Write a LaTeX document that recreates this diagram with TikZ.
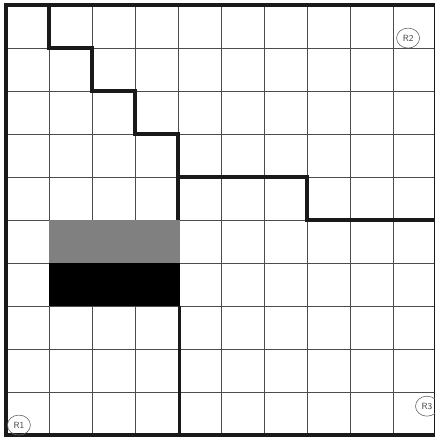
\documentclass[tikz,border=0pt]{standalone}
\usepackage{tikz}
\usetikzlibrary{shapes.geometric}

\begin{document}
\begin{tikzpicture}[x=43pt, y=43pt]
\tikzstyle{cellgrid}=[draw=black!70, line width=0.7pt]
\tikzstyle{wall}=[draw=black!90, line width=3.6pt, line join=miter]
\tikzstyle{region}=[ellipse, draw=black!60, line width=0.6pt, inner sep=1pt,
  minimum width=23pt, minimum height=20pt, font=\sffamily\small, text=black!75]

\useasboundingbox (-0.14,-0.07) rectangle (9.953,10.116);

% grid of cells
\draw[cellgrid] (0,0) grid[step={(1,1)}] (10,10);

% shaded cells
\fill[black!50] (1,4) rectangle (4.05,5);
\fill[black] (1,3) rectangle (4.05,4);

% walls
\draw[wall] (1,10) -- (1,9) -- (2,9) -- (2,8) -- (3,8) -- (3,7) -- (4,7)
  -- (4,6) -- (7,6) -- (7,5) -- (10,5);
\draw[wall] (4,6) -- (4,5);
\draw[wall] (4.03,3) -- (4.03,0);
\draw[wall] (0,0) rectangle (10,10);

% region labels
\node[region] (r1) at (0.3,0.23) {R1};
\node[region] (r2) at (9.35,9.23) {R2};
\node[region] (r3) at (9.79,0.67) {R3};
\end{tikzpicture}
\end{document}
